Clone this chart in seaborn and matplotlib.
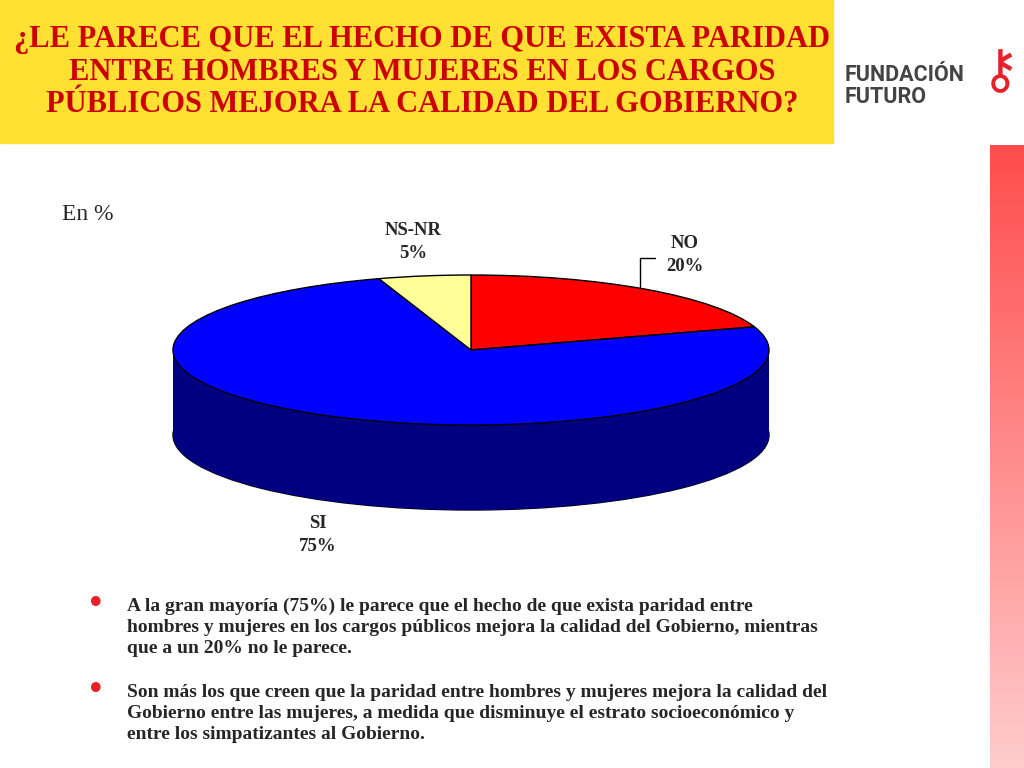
import matplotlib
matplotlib.use("Agg")
import matplotlib.pyplot as plt
import seaborn as sns
import numpy as np
from matplotlib.patches import Rectangle, Ellipse

sns.set_theme(style="white")

categories = ["NO", "SI", "NS-NR"]
values = [20, 75, 5]
top_colors = ["#ff0000", "#0000ff", "#ffff99"]
side_colors = ["#800000", "#000080", "#808040"]

W, H = 1024, 768
fig = plt.figure(figsize=(W/100, H/100), dpi=100)
fig.patch.set_facecolor("white")

bg = fig.add_axes([0, 0, 1, 1]); bg.set_xlim(0, W); bg.set_ylim(H, 0); bg.axis("off")
bg.add_patch(Rectangle((0, 0), 833, 143, color="#ffe033"))
grad = np.linspace(0, 1, 200).reshape(-1, 1)
bg.imshow(np.dstack([np.ones_like(grad), 0.3 + 0.5*grad, 0.3 + 0.5*grad]), extent=(990, 1024, 768, 145), aspect="auto")
bg.text(422, 72, "¿LE PARECE QUE EL HECHO DE QUE EXISTA PARIDAD\nENTRE HOMBRES Y MUJERES EN LOS CARGOS\nPÚBLICOS MEJORA LA CALIDAD DEL GOBIERNO?",
        ha="center", va="center", fontsize=22, fontweight="bold", color="#cc0000",
        family="Liberation Serif", linespacing=1.15)
bg.text(845, 75, "FUNDACIÓN", fontsize=15.5, fontweight="bold", color="#444444", va="center", family="Roboto")
bg.text(845, 97, "FUTURO", fontsize=15.5, fontweight="bold", color="#444444", va="center", family="Roboto")
bg.text(1000, 72, "⚷", fontsize=38, color="#e8202a", ha="center", va="center", family="DejaVu Sans")
bg.text(62, 214, "En %", fontsize=17, family="Liberation Serif", va="center")
for x, y, t in [(413, 242, "NS-NR\n5%"), (685, 255, "NO\n20%"), (318, 535, "SI\n75%")]:
    bg.text(x, y, t, ha="center", va="center", fontsize=13.5, fontweight="bold", family="Liberation Serif", linespacing=1.4)
bg.plot([655, 640, 640], [258, 258, 290], color="black", lw=1)
bullets = [(598, "A la gran mayoría (75%) le parece que el hecho de que exista paridad entre\nhombres y mujeres en los cargos públicos mejora la calidad del Gobierno, mientras\nque a un 20% no le parece."),
           (684, "Son más los que creen que la paridad entre hombres y mujeres mejora la calidad del\nGobierno entre las mujeres, a medida que disminuye el estrato socioeconómico y\nentre los simpatizantes al Gobierno.")]
for y, t in bullets:
    bg.text(96, y + 6, "•", fontsize=24, color="#e8202a", va="center", ha="center")
    bg.text(127, y, t, fontsize=14, fontweight="bold", family="Liberation Serif", va="top", linespacing=1.3)

ax = fig.add_axes([160/W, 1 - 520/H, 622/W, 260/H])
depth = 85/75
for d in np.linspace(depth, 0, 60):
    ax.pie(values, colors=side_colors, startangle=90, counterclock=False, center=(0, -d),
           wedgeprops=dict(linewidth=0))
ax.add_patch(Ellipse((0, -depth), 2, 2, fill=False, edgecolor="black", lw=1, zorder=0.5))
ax.pie(values, colors=top_colors, startangle=90, counterclock=False, center=(0, 0),
       wedgeprops=dict(linewidth=1, edgecolor="black"))
ax.set_aspect("auto")
ax.set_xlim(-311/298, 311/298)
ax.set_ylim(-170/75, 90/75)
ax.axis("off")

fig.savefig("out.png", dpi=100)
